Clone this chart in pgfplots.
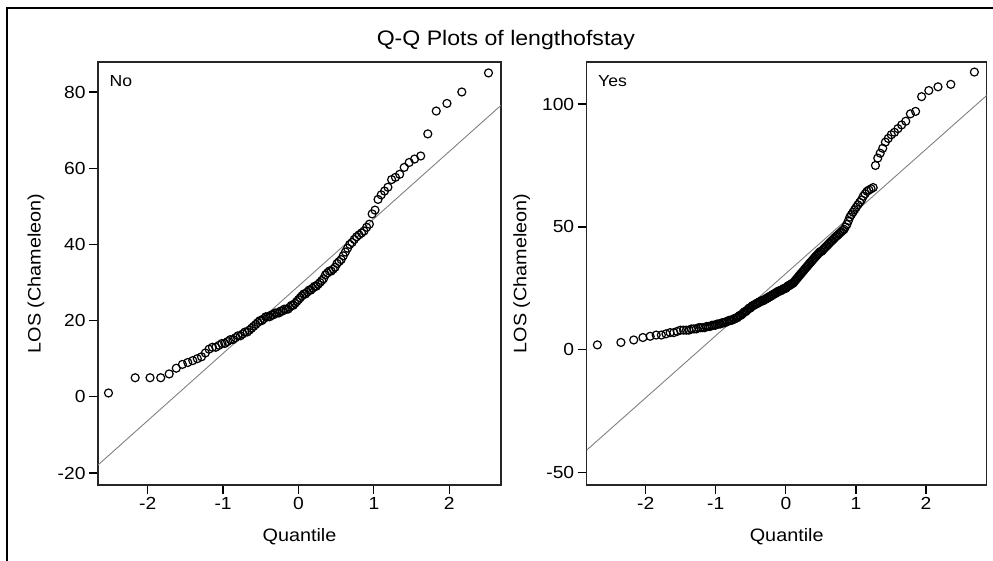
\documentclass[border=0pt]{standalone}
\usepackage{fontspec}
\setmainfont[FakeStretch=1.1]{Liberation Sans}
\usepackage{pgfplots}
\pgfplotsset{compat=1.18}
\pgfplotsset{qq/.style={
  scale only axis, anchor=south west,
  axis line style={black!85,line width=1.3pt},
  tick style={black,line width=1.2pt},
  tick align=outside, major tick length=9pt,
  tick pos=left,
  xtick={-2,-1,0,1,2}, xticklabels={{-2},{-1},0,1,2},
  ticklabel style={font=\fontsize{17.5}{20}\selectfont},
  label style={font=\fontsize{18}{21}\selectfont},
  xlabel=Quantile, ylabel={LOS (Chameleon)},
  xlabel style={at={(axis description cs:0.5,-0.123)},anchor=center},
  clip mode=individual,
}}
\pgfplotsset{pts/.style={only marks, mark=o, mark size=4pt, black, mark options={line width=1.2pt}}}
\pgfplotsset{refl/.style={no marks, gray, line width=0.9pt}}
\begin{document}
\begin{tikzpicture}
\useasboundingbox (0pt,0pt) rectangle (993pt,561pt);
\draw[line width=2pt,black] (7.3pt,0pt) -- (7.3pt,553pt) -- (993pt,553pt);
\node[font=\fontsize{21}{24}\selectfont] at (505.8pt,521pt) {Q-Q Plots of lengthofstay};
% ---------- No ----------
\begin{axis}[qq, at={(98pt,76pt)}, width=403pt, height=423pt,
  xmin=-2.659, xmax=2.686, ymin=-23.15, ymax=87.87,
  ytick={-20,0,20,40,60,80}, yticklabels={{-20},0,20,40,60,80},
  ylabel style={at={(axis description cs:-0.154,0.5)},anchor=center}]
\addplot[refl] coordinates {(-2.659,-17.9) (2.686,76.5)};
\addplot[pts] table {
x y
-2.520 1
-2.166 5
-1.969 5
-1.827 5
-1.715 6
-1.621 7.5
-1.540 8.5
-1.468 9
-1.402 9.5
-1.342 10
-1.286 10.5
-1.235 11.5
-1.186 12.5
-1.141 13
-1.097 13
-1.055 13.5
-1.015 14
-0.977 14
-0.940 14.5
-0.904 15
-0.869 15
-0.836 15.5
-0.803 16
-0.771 16
-0.740 16.5
-0.710 17
-0.680 17
-0.651 17.5
-0.622 18
-0.594 18.5
-0.566 19
-0.539 19.5
-0.512 20
-0.486 20
-0.460 20.5
-0.434 21
-0.409 21
-0.383 21
-0.358 21.5
-0.333 21.5
-0.309 22
-0.285 22
-0.260 22
-0.236 22.5
-0.212 22.5
-0.188 23
-0.164 23
-0.140 23
-0.117 23.5
-0.094 24
-0.070 24
-0.047 24.5
-0.023 25
0.000 25.5
0.023 26
0.047 26.5
0.070 27
0.094 27
0.117 27.5
0.140 28
0.164 28
0.188 28.5
0.212 29
0.236 29
0.260 29.5
0.285 30
0.309 30.5
0.333 31
0.358 32
0.383 32.5
0.409 33
0.434 33
0.460 33.5
0.486 34
0.512 35
0.539 35.5
0.566 36
0.594 37
0.622 38
0.651 39
0.680 40
0.710 40.5
0.740 41.3
0.771 42
0.803 42.5
0.836 43
0.869 43.5
0.904 44.5
0.940 45.3
0.977 48
1.015 49
1.055 51.8
1.097 53
1.141 54
1.186 55
1.235 57
1.286 57.6
1.342 58.4
1.402 60.2
1.468 61.5
1.540 62.4
1.621 63.2
1.715 69
1.827 75
1.969 77
2.166 80
2.520 85
};
\node[anchor=west,font=\fontsize{16}{19}\selectfont] at (rel axis cs:0.02,0.955) {No};
\end{axis}
% ---------- Yes ----------
\begin{axis}[qq, at={(586.7pt,76pt)}, width=400pt, height=423pt,
  xmin=-2.842, xmax=2.866, ymin=-55.0, ymax=117.1,
  ytick={-50,0,50,100}, yticklabels={{-50},0,50,100},
  ylabel style={at={(axis description cs:-0.1625,0.5)},anchor=center}]
\addplot[refl] coordinates {(-2.842,-40.8) (2.866,103.5)};
\addplot[pts] table {
x y
-2.690 2
-2.354 3
-2.171 4
-2.040 5
-1.937 5.5
-1.851 6
-1.777 6
-1.711 6.5
-1.652 7
-1.599 7
-1.550 7.5
-1.504 8
-1.461 8
-1.420 8
-1.382 8
-1.346 8.5
-1.311 8.5
-1.278 8.5
-1.246 9
-1.216 9
-1.186 9
-1.158 9
-1.131 9.5
-1.105 9.5
-1.079 9.5
-1.053 10
-1.028 10
-1.004 10
-0.981 10.5
-0.958 10.5
-0.935 10.5
-0.913 11
-0.892 11
-0.871 11
-0.850 11.5
-0.830 11.5
-0.810 12
-0.790 12
-0.771 12
-0.752 12.5
-0.733 12.5
-0.714 13
-0.696 13
-0.678 13.5
-0.660 14
-0.643 14
-0.625 14.5
-0.608 15
-0.591 15.5
-0.574 15.5
-0.557 16
-0.540 16.5
-0.524 17
-0.507 17
-0.491 17.5
-0.475 18
-0.459 18
-0.443 18.5
-0.427 18.5
-0.412 19
-0.396 19
-0.381 19.5
-0.366 19.5
-0.350 20
-0.335 20
-0.320 20
-0.305 20.5
-0.290 20.5
-0.275 21
-0.261 21
-0.246 21.5
-0.231 21.5
-0.217 22
-0.202 22
-0.187 22.5
-0.173 22.5
-0.158 23
-0.144 23
-0.129 23.5
-0.115 23.5
-0.100 24
-0.086 24
-0.072 24
-0.057 24.5
-0.043 24.5
-0.029 25
-0.014 25
0.000 25
0.014 25.5
0.029 26
0.043 26
0.057 26.5
0.072 26.5
0.086 27
0.100 27
0.115 27.5
0.129 28
0.144 28.5
0.158 29
0.173 29.5
0.187 30
0.202 30.5
0.217 31
0.231 31.5
0.246 32
0.261 32.5
0.275 33
0.290 33.5
0.305 34
0.320 34.5
0.335 35
0.350 35.5
0.366 36
0.381 36.5
0.396 37
0.412 37.5
0.427 38
0.443 38.5
0.459 39
0.475 39.5
0.491 40
0.507 40
0.524 40.5
0.540 41
0.557 41.5
0.574 42
0.591 42.5
0.608 43
0.625 43.5
0.643 44
0.660 44.5
0.678 45
0.696 45.5
0.714 46
0.733 46.5
0.752 47
0.771 47.5
0.790 48
0.810 48.5
0.830 49
0.850 50
0.871 51
0.892 52.5
0.913 54
0.935 55
0.958 56
0.981 57
1.004 58
1.028 59
1.053 60
1.079 61
1.105 62.5
1.131 63.5
1.158 64.5
1.186 65
1.216 65.5
1.246 66
1.278 75
1.311 78
1.346 80
1.382 82
1.420 84.5
1.461 86
1.504 87.5
1.550 88.5
1.599 90
1.652 91.5
1.711 93
1.777 96
1.851 97
1.937 103
2.040 105.5
2.171 107
2.354 108
2.690 113
};
\node[anchor=west,font=\fontsize{16}{19}\selectfont] at (rel axis cs:0.02,0.955) {Yes};
\end{axis}
\end{tikzpicture}
\end{document}
